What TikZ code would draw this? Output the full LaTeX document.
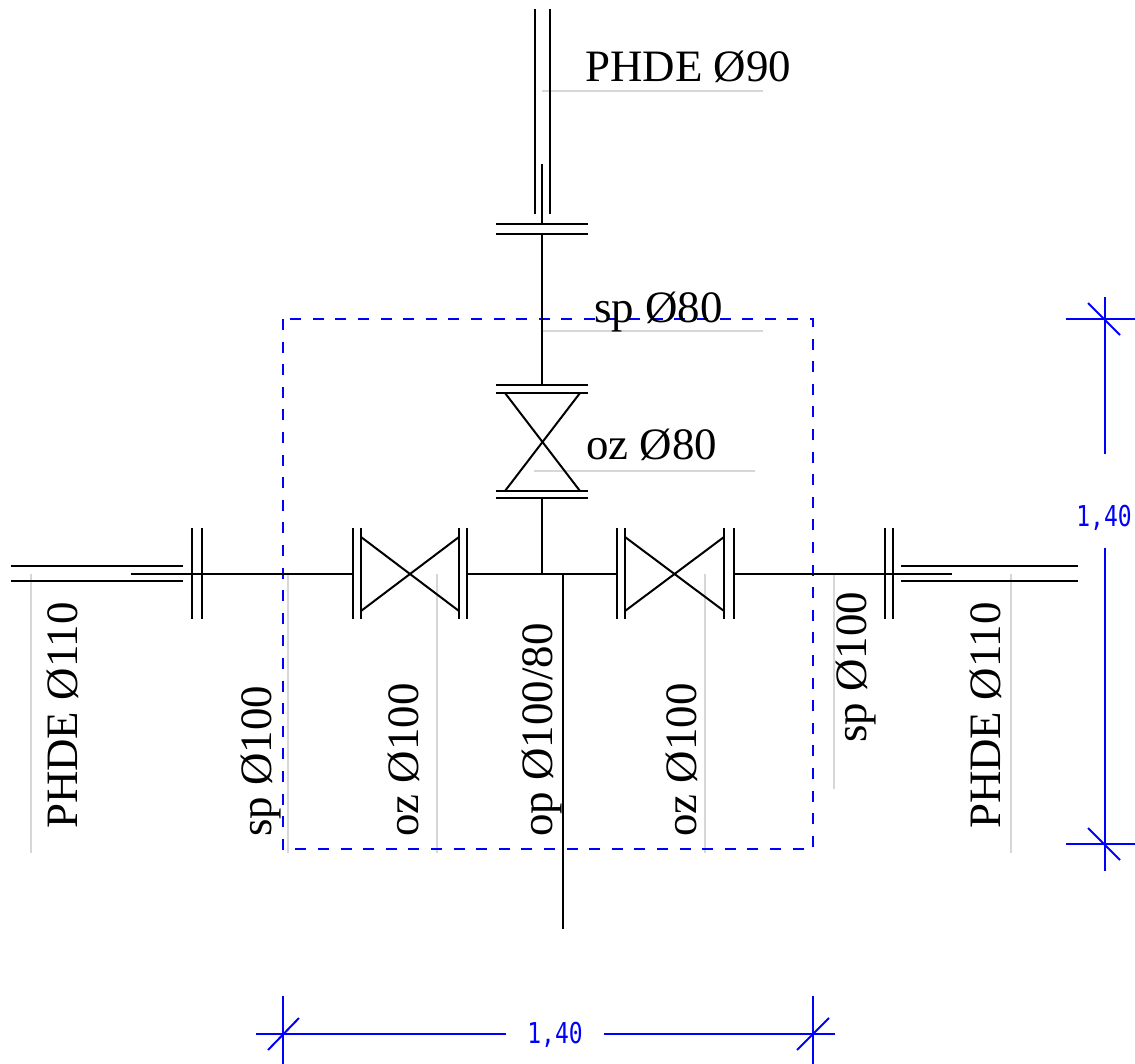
\documentclass[tikz,border=0pt]{standalone}
\usepackage{fontspec}
\setmainfont{Liberation Serif}
\newfontfamily\dimfont{DejaVu Sans Mono}
\definecolor{cadblue}{RGB}{0,0,255}
\definecolor{leader}{RGB}{215,215,215}
\tikzset{
  pipe/.style={black,line width=2pt},
  thinpipe/.style={black,line width=2pt},
  leaderline/.style={leader,line width=1.3pt},
  dimline/.style={cadblue,line width=2pt},
  boundary/.style={cadblue,line width=2pt,dash pattern=on 11pt off 11.6pt},
  label/.style={black,inner sep=0pt,anchor=base west,font=\fontsize{44.9}{46}\selectfont},
  vlabel/.style={label,rotate=90},
  dimlabel/.style={cadblue,inner sep=0pt,font=\dimfont\fontsize{23}{26}\selectfont}
}
\begin{document}
\begin{tikzpicture}[x=1pt,y=-1pt]
\useasboundingbox (0,0) rectangle (1135,1064);
% leaders
\draw[leaderline] (542,91) -- (763,91);
\draw[leaderline] (542,331) -- (763,331);
\draw[leaderline] (534,471) -- (755,471);
\foreach \x/\y in {31/853,288/853,437/853,705/853,834/789,1011/853}
  \draw[leaderline] (\x,574) -- (\x,\y);
% boundary
\draw[boundary] (283,319) rectangle (813,849);
% top pipe
\draw[pipe] (535,9) -- (535,214);
\draw[pipe] (550,9) -- (550,214);
\draw[thinpipe] (542,164) -- (542,224);
\draw[pipe] (496,224) -- (588,224);
\draw[pipe] (496,234) -- (588,234);
\draw[pipe] (542,234) -- (542,384);
% top valve
\draw[pipe] (496,385) -- (588,385);
\draw[pipe] (496,393) -- (588,393);
\draw[thinpipe] (505,393) -- (580,491);
\draw[thinpipe] (580,393) -- (505,491);
\draw[pipe] (496,491) -- (588,491);
\draw[pipe] (496,498) -- (588,498);
\draw[pipe] (542,498) -- (542,574);
% left pipe
\draw[pipe] (11,566) -- (183,566);
\draw[pipe] (11,581) -- (183,581);
\draw[pipe] (131,574) -- (353,574);
\draw[pipe] (192,528) -- (192,619);
\draw[pipe] (202,528) -- (202,619);
% left valve
\draw[pipe] (353,528) -- (353,619);
\draw[pipe] (361,528) -- (361,619);
\draw[thinpipe] (361,537) -- (459,611);
\draw[thinpipe] (361,611) -- (459,537);
\draw[pipe] (459,528) -- (459,619);
\draw[pipe] (467,528) -- (467,619);
\draw[pipe] (467,574) -- (617,574);
% right valve
\draw[pipe] (617,528) -- (617,619);
\draw[pipe] (625,528) -- (625,619);
\draw[thinpipe] (625,537) -- (724,611);
\draw[thinpipe] (625,611) -- (724,537);
\draw[pipe] (724,528) -- (724,619);
\draw[pipe] (734,528) -- (734,619);
% right pipe
\draw[pipe] (734,574) -- (952,574);
\draw[pipe] (885,528) -- (885,619);
\draw[pipe] (893,528) -- (893,619);
\draw[pipe] (901,566) -- (1078,566);
\draw[pipe] (901,581) -- (1078,581);
% drain
\draw[pipe] (563,574) -- (563,929);
% right dimension
\draw[dimline] (1105,297) -- (1105,454);
\draw[dimline] (1105,548) -- (1105,871);
\draw[dimline] (1066,319) -- (1135,319);
\draw[dimline] (1066,844) -- (1135,844);
\draw[dimline] (1088,303) -- (1120,335);
\draw[dimline] (1088,828) -- (1120,860);
% bottom dimension
\draw[dimline] (256,1034) -- (506,1034);
\draw[dimline] (604,1034) -- (835,1034);
\draw[dimline] (283,996) -- (283,1064);
\draw[dimline] (813,996) -- (813,1064);
\draw[dimline] (268,1050) -- (299,1018);
\draw[dimline] (797,1050) -- (829,1018);
% labels
\node[label] (l90) at (585,82) {PHDE Ø90};
\node[label] (lsp80) at (594,322.5) {sp Ø80};
\node[label] (loz80) at (586,459) {oz Ø80};
\node[vlabel] (lp1) at (77,829) {PHDE Ø110};
\node[vlabel] (lsp1) at (271.5,837) {sp Ø100};
\node[vlabel] (loz1) at (418.5,837) {oz Ø100};
\node[vlabel] (lop) at (552,837) {op Ø100/80};
\node[vlabel] (loz2) at (696.5,837) {oz Ø100};
\node[vlabel] (lsp2) at (866,743) {sp Ø100};
\node[vlabel] (lp2) at (1000,829) {PHDE Ø110};
\node[dimlabel] (d1) at (1104,518) {\scalebox{1}[1.25]{1,40}};
\node[dimlabel] (d2) at (555,1035) {\scalebox{1}[1.25]{1,40}};
\end{tikzpicture}
\end{document}
